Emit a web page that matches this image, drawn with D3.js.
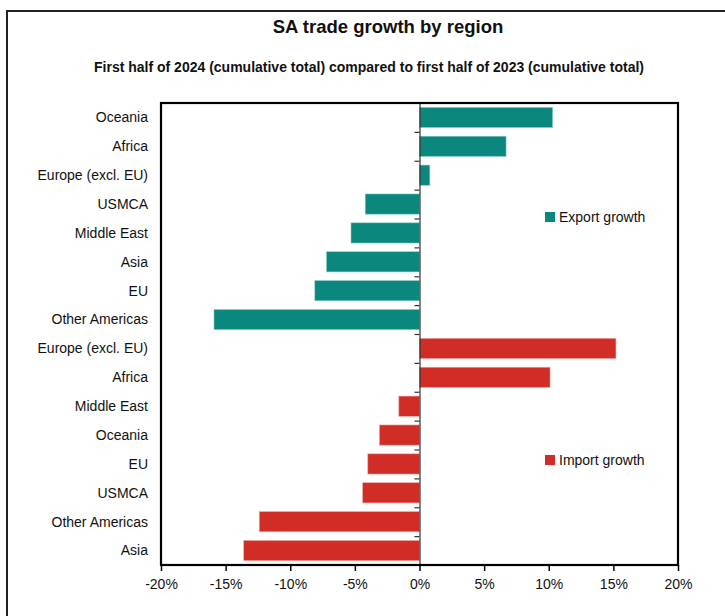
<!DOCTYPE html>
<html><head><meta charset="utf-8">
<script src="https://cdn.jsdelivr.net/npm/d3@7"></script>
<style>
body{margin:0;background:#fff;}
svg text{font-family:"Liberation Sans Narrow","Arial Narrow",sans-serif;fill:#111;}
</style></head>
<body><svg id="c" width="725" height="616"></svg>
<script>
const categories = ["Oceania","Africa","Europe (excl. EU)","USMCA","Middle East","Asia","EU","Other Americas",
                    "Europe (excl. EU)","Africa","Middle East","Oceania","EU","USMCA","Other Americas","Asia"];
const series = ["export","export","export","export","export","export","export","export",
                "import","import","import","import","import","import","import","import"];
const values = [10.3,6.7,0.8,-4.2,-5.3,-7.2,-8.1,-15.9,
                15.2,10.1,-1.6,-3.1,-4.0,-4.4,-12.4,-13.6];
const tickValues = [-20,-15,-10,-5,0,5,10,15,20];
const legendLabels = {export:"Export growth", import:"Import growth"};
const colors = {export:"#0b877e", import:"#d12d27"};

const svg = d3.select("#c");
const L=161, R=678, T=103, B=565;
const x = d3.scaleLinear().domain([-20,20]).range([L,R]);
const idx = d3.range(categories.length);
const y = d3.scaleBand().domain(idx).range([T,B]).paddingInner(0.3).paddingOuter(0.15);

// outer frame
svg.append("rect").attr("x",7).attr("y",11).attr("width",730).attr("height",620)
  .attr("fill","none").attr("stroke","#222").attr("stroke-width",2);

// titles
svg.append("text").attr("x",388).attr("y",33).attr("text-anchor","middle")
  .attr("font-size",18.5).attr("font-weight","bold").text("SA trade growth by region");
svg.append("text").attr("x",369).attr("y",72).attr("text-anchor","middle")
  .attr("font-size",14).attr("font-weight","bold")
  .text("First half of 2024 (cumulative total) compared to first half of 2023 (cumulative total)");

// bars
svg.append("g").selectAll("rect").data(idx).join("rect")
  .attr("x", i => x(Math.min(0, values[i])))
  .attr("width", i => Math.abs(x(values[i]) - x(0)))
  .attr("y", i => y(i))
  .attr("height", y.bandwidth())
  .attr("fill", i => colors[series[i]])
  .attr("stroke", i => series[i]==="export" ? "#8fd0c8" : "#f0a8a4")
  .attr("stroke-width",0.6);

// zero axis with left ticks
const yAxisScale = d3.scaleLinear().domain([0,categories.length]).range([T,B]);
const zeroAxis = d3.axisLeft(yAxisScale).tickValues(d3.range(1,categories.length)).tickSize(5).tickFormat("");
const gz = svg.append("g").attr("transform",`translate(${x(0)},0)`).call(zeroAxis);
gz.select(".domain").attr("stroke","#333").attr("stroke-width",1.2);
gz.selectAll(".tick line").attr("stroke","#333").attr("stroke-width",1.2);

// category labels
svg.append("g").selectAll("text").data(idx).join("text")
  .attr("x",148).attr("y", i => y(i)+y.bandwidth()/2).attr("dy","0.35em")
  .attr("text-anchor","end").attr("font-size",14).text(i => categories[i]);

// plot frame
svg.append("rect").attr("x",L).attr("y",T).attr("width",R-L).attr("height",B-T)
  .attr("fill","none").attr("stroke","#000").attr("stroke-width",2.2);

// bottom axis
const xAxis = d3.axisBottom(x).tickValues(tickValues).tickSize(6).tickPadding(8).tickFormat(d => d+"%");
const gx = svg.append("g").attr("transform",`translate(0,${B})`).call(xAxis);
gx.select(".domain").remove();
gx.selectAll(".tick line").attr("stroke","#000").attr("stroke-width",1.5);
gx.selectAll(".tick text").attr("font-size",14).attr("fill","#111")
  .style("font-family",'"Liberation Sans Narrow","Arial Narrow",sans-serif');

// legends
const legends = [{key:"export", y:217},{key:"import", y:460}];
const lg = svg.append("g").selectAll("g").data(legends).join("g")
  .attr("transform", d => `translate(545,${d.y})`);
lg.append("rect").attr("x",0).attr("y",-5).attr("width",10).attr("height",10)
  .attr("fill", d => colors[d.key]);
lg.append("text").attr("x",14).attr("y",0).attr("dy","0.35em").attr("font-size",14)
  .text(d => legendLabels[d.key]);
</script></body></html>
